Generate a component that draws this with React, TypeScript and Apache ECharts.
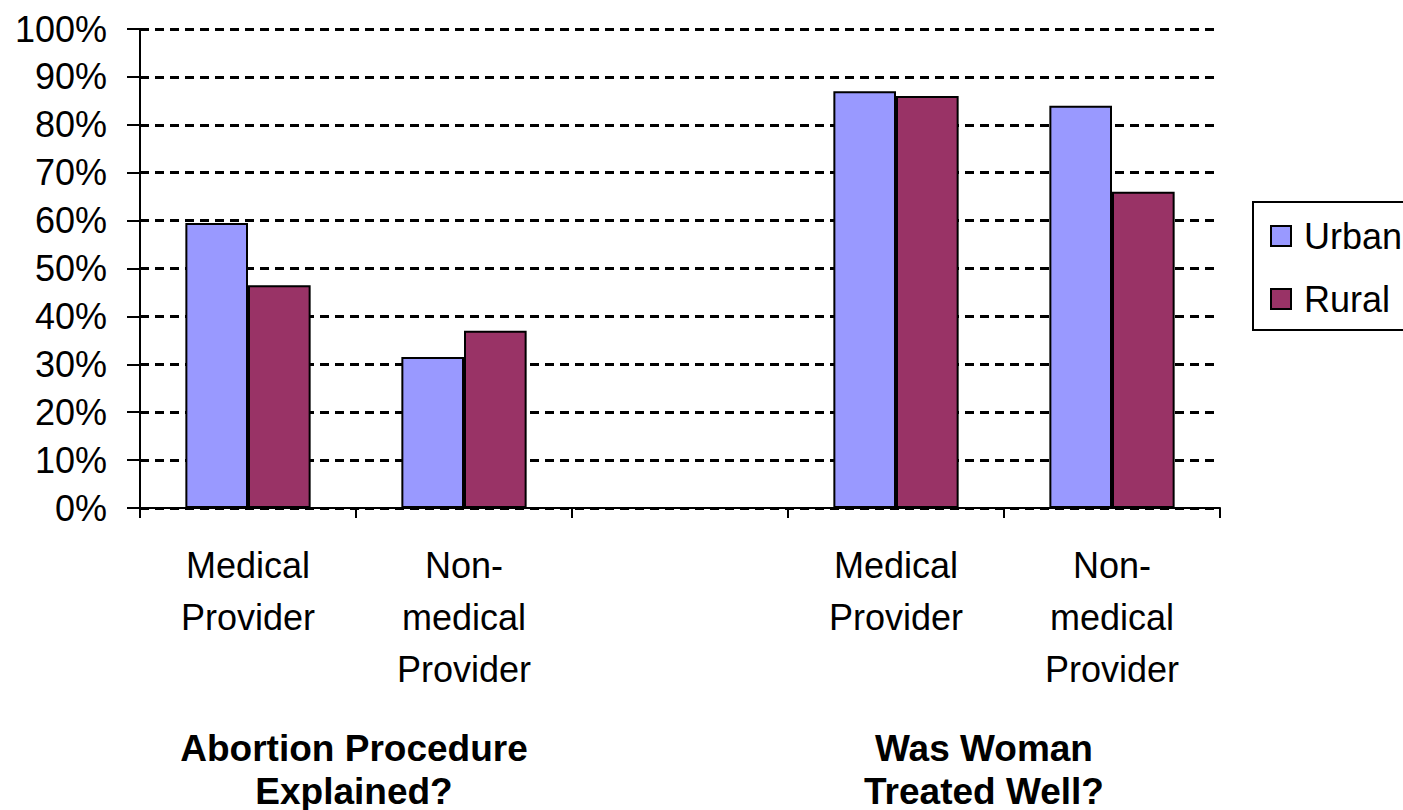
import React, { useEffect, useRef } from "react";
import * as echarts from "echarts";

const categories = [
  "Medical\nProvider",
  "Non-\nmedical\nProvider",
  "",
  "Medical\nProvider",
  "Non-\nmedical\nProvider",
];
const urbanValues: (number | null)[] = [59.5, 31.5, null, 87, 84];
const ruralValues: (number | null)[] = [46.5, 37, null, 86, 66];
const seriesNames = ["Urban", "Rural"];
const groupTitles = [
  ["Abortion Procedure", "Explained?"],
  ["Was Woman", "Treated Well?"],
];
const yTicks = { min: 0, max: 100, interval: 10 };

const FONT = "'Liberation Sans', Arial, sans-serif";

export default function App() {
  const ref = useRef<HTMLDivElement>(null);
  useEffect(() => {
    document.body.style.margin = "0";
    const chart = echarts.init(ref.current!, null, { renderer: "svg" });
    const titleText = (text: string, x: number, y: number) => ({
      type: "text",
      x,
      y,
      style: {
        text,
        fontFamily: FONT,
        fontSize: 37,
        fontWeight: "bold",
        lineHeight: 36,
        fill: "#000",
        textAlign: "center",
        textVerticalAlign: "middle",
        align: "center",
        verticalAlign: "middle",
      },
    });
    const titleX = [354, 984];
    const titleY = [748, 791];
    const graphics: any[] = [];
    groupTitles.forEach((lines, gi) => {
      lines.forEach((line, li) => {
        graphics.push(titleText(line, titleX[gi], titleY[li]));
      });
    });
    chart.setOption({
      animation: false,
      backgroundColor: "#ffffff",
      textStyle: { fontFamily: FONT },
      grid: { left: 140, right: 183, top: 29, bottom: 302, containLabel: false },
      legend: {
        orient: "vertical",
        left: 1253,
        top: 202,
        padding: [13, 30, 10, 17],
        itemGap: 21,
        itemWidth: 20,
        itemHeight: 20,
        borderColor: "#000",
        borderWidth: 2,
        icon: "rect",
        textStyle: {
          fontFamily: FONT,
          fontSize: 36,
          color: "#000",
          lineHeight: 42,
          padding: [0, 0, 0, 8],
        },
        data: seriesNames,
      },
      xAxis: {
        type: "category",
        data: categories,
        boundaryGap: true,
        axisLine: { lineStyle: { color: "#000", width: 2 } },
        axisTick: { show: true, length: 10, lineStyle: { color: "#000", width: 2 } },
        axisLabel: {
          interval: 0,
          margin: 31,
          fontFamily: FONT,
          fontSize: 36,
          lineHeight: 52,
          color: "#000",
          align: "center",
        },
      },
      yAxis: {
        type: "value",
        min: yTicks.min,
        max: yTicks.max,
        interval: yTicks.interval,
        axisLine: { show: true, lineStyle: { color: "#000", width: 2 } },
        axisTick: { show: true, length: 13, lineStyle: { color: "#000", width: 2 } },
        axisLabel: {
          formatter: "{value}%",
          margin: 33,
          fontFamily: FONT,
          fontSize: 36,
          color: "#000",
        },
        splitLine: {
          show: true,
          lineStyle: { color: "#000", width: 3, type: [9, 6] },
        },
      },
      series: [
        {
          name: seriesNames[0],
          type: "bar",
          data: urbanValues,
          barGap: "0%",
          barCategoryGap: "42%",
          itemStyle: { color: "#9999FF", borderColor: "#000", borderWidth: 2 },
        },
        {
          name: seriesNames[1],
          type: "bar",
          data: ruralValues,
          barGap: "0%",
          barCategoryGap: "42%",
          itemStyle: { color: "#993366", borderColor: "#000", borderWidth: 2 },
        },
      ],
      graphic: graphics,
    });
    return () => chart.dispose();
  }, []);
  return <div ref={ref} style={{ width: 1403, height: 810 }} />;
}
